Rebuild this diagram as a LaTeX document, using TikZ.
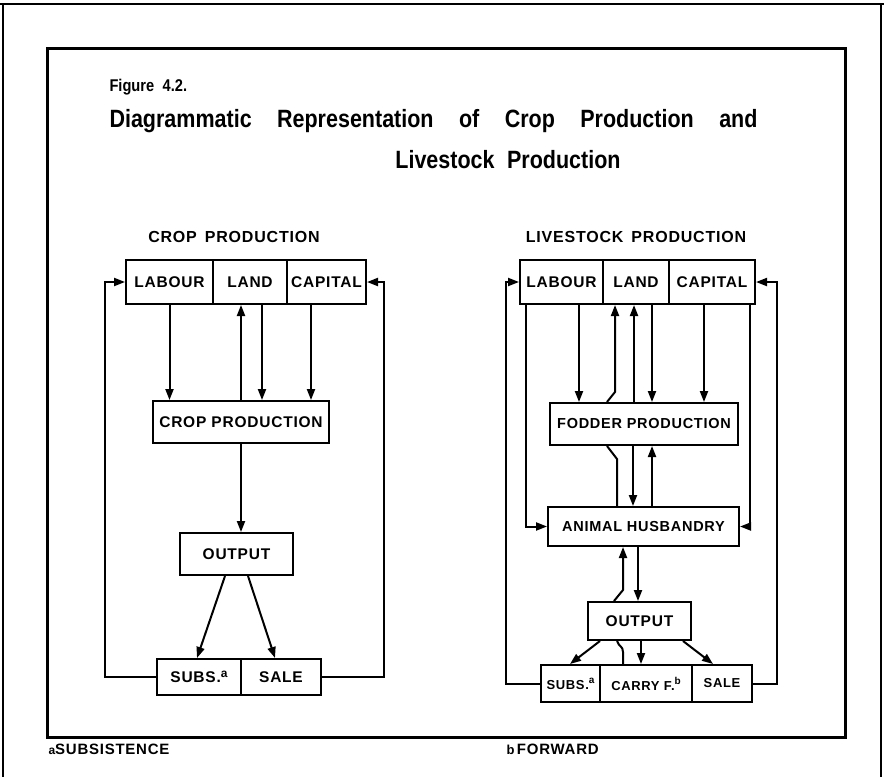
\documentclass[tikz,border=0pt]{standalone}
\usepackage{fontspec}
\setmainfont{Liberation Sans}
\newfontfamily\labfont[LetterSpace=5]{Liberation Sans}
\newfontfamily\condfont[FakeStretch=0.86]{Liberation Sans}
\usetikzlibrary{arrows.meta}
\begin{document}
\begin{tikzpicture}[x=1pt,y=-1pt,
  ln/.style={line width=2pt},
  arr/.style={line width=2pt,-{Triangle[length=11pt,width=8pt]}},
  cell/.style={draw,line width=2pt,inner sep=0pt,font=\labfont\bfseries\fontsize{15.5}{15.5}\selectfont},
  widecell/.style={cell,font=\labfont\bfseries\fontsize{14.5}{14.5}\selectfont},
  smallcell/.style={cell,font=\labfont\bfseries\fontsize{13}{13}\selectfont},
  hdr/.style={font=\labfont\bfseries\fontsize{16}{16}\selectfont},
  ttl/.style={font=\condfont\bfseries\fontsize{25}{25}\selectfont},
  foot/.style={anchor=west,font=\labfont\bfseries\fontsize{15}{15}\selectfont},
]
\useasboundingbox (0,0) rectangle (884,777);
% frames
\draw[line width=1.8pt] (0,4) -- (884,4);
\draw[line width=1.8pt] (3,4) -- (3,777);
\draw[line width=1.8pt] (881,4) -- (881,777);
\draw[line width=3pt] (47,48) rectangle (845,737);

% titles
\node[anchor=west,font=\condfont\bfseries\fontsize{17}{17}\selectfont] (fig) at (106,87) {Figure\enspace 4.2.};
\node[anchor=west,ttl] (t1) at (106,121) {\makebox[648pt][s]{Diagrammatic Representation of Crop Production and}};
\node[ttl] (t2) at (508,160) {Livestock\enspace Production};

\node[hdr] (h1) at (234,237) {CROP\enspace PRODUCTION};
\node[hdr] (h2) at (636,237) {LIVESTOCK\enspace PRODUCTION};

% ---------- left diagram
\node[cell,minimum width=87pt,minimum height=44pt] (Lab) at (169.5,282) {LABOUR};
\node[cell,minimum width=74pt,minimum height=44pt] (Lan) at (250,282) {LAND};
\node[cell,minimum width=79pt,minimum height=44pt] (Cap) at (326.5,282) {CAPITAL};
\node[cell,minimum width=176pt,minimum height=42pt] (CP) at (241,422) {CROP PRODUCTION};
\node[cell,minimum width=113pt,minimum height=42pt] (Out) at (236.5,554) {OUTPUT};
\node[cell,minimum width=84pt,minimum height=36pt] (Subs) at (199,677) {SUBS.\raisebox{5pt}{\fontsize{12}{12}\selectfont a}};
\node[cell,minimum width=80pt,minimum height=36pt] (Sale) at (281,677) {SALE};

\draw[arr] (Subs.west) -- ++(-51,0) |- (Lab.west);
\draw[arr] (Sale.east) -- ++(62,0) |- (Cap.east);
\draw[arr] (Lab.south) -- ([xshift=-71.5pt]CP.north);
\draw[arr] (CP.north) -- ([xshift=-9pt]Lan.south);
\draw[arr] ([xshift=12pt]Lan.south) -- ([xshift=21pt]CP.north);
\draw[arr] ([xshift=-15.5pt]Cap.south) -- ([xshift=70pt]CP.north);
\draw[arr] (CP.south) -- ([xshift=4.5pt]Out.north);
\draw[arr] ([xshift=-11.5pt]Out.south) -- ([xshift=-2pt]Subs.north);
\draw[arr] ([xshift=11.5pt]Out.south) -- ([xshift=-6pt]Sale.north);

% ---------- right diagram
\node[cell,minimum width=83pt,minimum height=44pt] (RLab) at (561.5,282) {LABOUR};
\node[cell,minimum width=66pt,minimum height=44pt] (RLan) at (636,282) {LAND};
\node[cell,minimum width=86pt,minimum height=44pt] (RCap) at (712,282) {CAPITAL};
\node[widecell,minimum width=188pt,minimum height=42pt] (Fod) at (644,424) {FODDER PRODUCTION};
\node[widecell,minimum width=191pt,minimum height=39pt] (AH) at (643.5,526.5) {ANIMAL HUSBANDRY};
\node[cell,minimum width=103pt,minimum height=38pt] (ROut) at (639.5,621) {OUTPUT};
\node[smallcell,minimum width=59pt,minimum height=37pt] (RSubs) at (570.5,683.5) {SUBS.\raisebox{6pt}{\fontsize{10}{10}\selectfont a}};
\node[smallcell,minimum width=92pt,minimum height=37pt] (Carry) at (646,683.5) {CARRY F.\raisebox{6pt}{\fontsize{10}{10}\selectfont b}};
\node[smallcell,minimum width=60pt,minimum height=37pt] (RSale) at (722,683.5) {SALE};

\draw[arr] (RSubs.west) -- ++(-34,0) |- (RLab.west);
\draw[arr] (RSale.east) -- ++(24,0) |- (RCap.east);
\draw[arr] ([xshift=-35.5pt]RLab.south) |- (AH.west);
\draw[arr] ([xshift=38pt]RCap.south) |- (AH.east);
\draw[arr] ([xshift=17.5pt]RLab.south) -- ([xshift=-65pt]Fod.north);
\draw[arr] ([xshift=16pt]RLan.south) -- ([xshift=8pt]Fod.north);
\draw[arr] ([xshift=-10pt]Fod.north) -- ([xshift=-2pt]RLan.south);
\draw[arr] ([xshift=-8pt]RCap.south) -- ([xshift=60pt]Fod.north);
% bypass AH -> LAND around fodder
\draw[ln] ([xshift=-26.5pt]AH.north) -- ++(0,-47) -- ([xshift=-37pt]Fod.south);
\draw[arr] ([xshift=-37pt]Fod.north) -- ++(8,-10) -- ([xshift=-21pt]RLan.south);
\draw[arr] ([xshift=-11pt]Fod.south) -- ([xshift=-10.5pt]AH.north);
\draw[arr] ([xshift=8.5pt]AH.north) -- ([xshift=8pt]Fod.south);
% between AH and output
\draw[arr] ([xshift=-25.5pt]ROut.north) -- ++(9,-11) -- ([xshift=-20.5pt]AH.south);
\draw[arr] ([xshift=-5.5pt]AH.south) -- ([xshift=-1.5pt]ROut.north);
% below output
\draw[arr] ([xshift=-39.5pt]ROut.south) -- ([xshift=-0.5pt]RSubs.north);
\draw[ln] ([xshift=-23pt]Carry.north) -- ++(0,-12) .. controls +(0,-6) and +(2,6) .. ([xshift=-22.5pt]ROut.south);
\draw[arr] ([xshift=1.5pt]ROut.south) -- ([xshift=-5pt]Carry.north);
\draw[arr] ([xshift=43.5pt]ROut.south) -- ([xshift=-9pt]RSale.north);

% footnotes
\node[foot] (fa) at (45,749) {{\fontsize{12}{12}\selectfont a}SUBSISTENCE};
\node[foot] (fb) at (503,749) {{\fontsize{13}{13}\selectfont b}\,FORWARD};
\end{tikzpicture}
\end{document}
